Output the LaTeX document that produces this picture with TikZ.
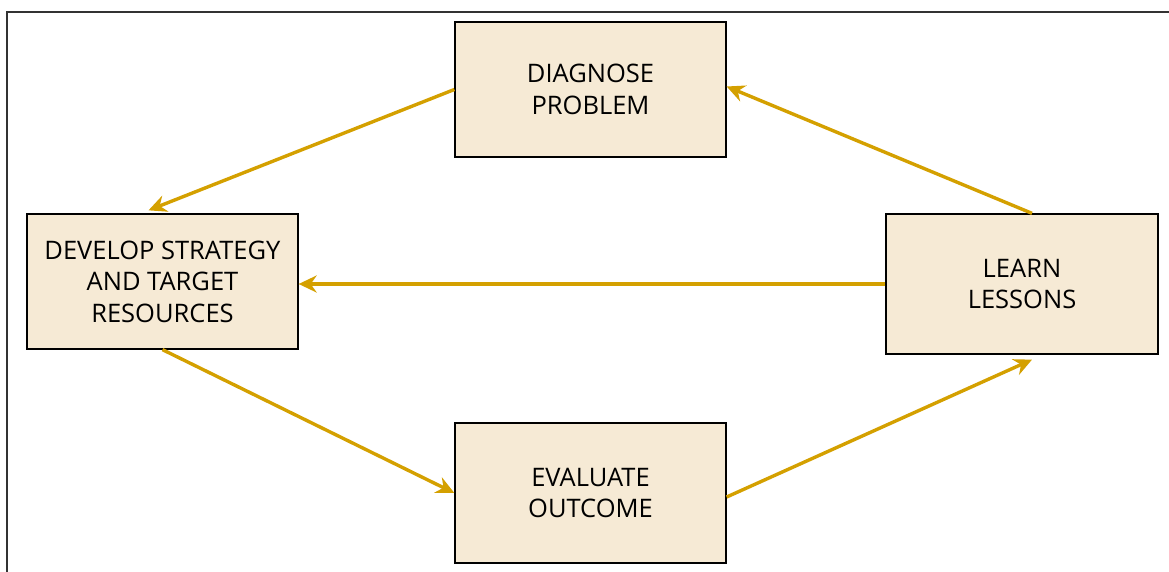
\documentclass[tikz,border=0pt]{standalone}
\usepackage{fontspec}
\setmainfont{Open Sans}
\usetikzlibrary{arrows.meta}
\definecolor{boxfill}{HTML}{F6EAD5}
\definecolor{flow}{HTML}{D4A000}
\tikzset{stage/.style={draw=black,line width=1.3pt,fill=boxfill,minimum width=271pt,minimum height=135pt,align=center,font=\fontsize{25.5}{31.5}\selectfont},
 flowarrow/.style={draw=flow,line width=3.4pt,-{Stealth[length=18pt,width=17pt,inset=6pt]}}}
\begin{document}
\begin{tikzpicture}[x=1pt,y=-1pt]
 \useasboundingbox (0,0) rectangle (1169,572);
 \draw[line width=1.8pt,draw=black!80] (7,600) -- (7,12) -- (1200,12);
 \node[stage] (diagnose) at (590.5,89.5) {DIAGNOSE\\PROBLEM};
 \node[stage] (develop) at (162.5,281.5) {DEVELOP STRATEGY\\AND TARGET\\RESOURCES};
 \node[stage,minimum width=272pt,minimum height=140pt] (learn) at (1022,284) {LEARN\\LESSONS};
 \node[stage,minimum height=140pt] (evaluate) at (590.5,493) {EVALUATE\\OUTCOME};
 \draw[flowarrow] (diagnose.west) -- ([xshift=-14pt,yshift=3pt]develop.north);
 \draw[flowarrow] (learn.west |- 0,284) -- (develop.east |- 0,284);
 \draw[flowarrow] (develop.south) -- (evaluate.west);
 \draw[flowarrow] ([yshift=-4pt]evaluate.east) -- ([xshift=10pt,yshift=-5pt]learn.south);
 \draw[flowarrow] ([xshift=10pt]learn.north) -- ([yshift=3pt]diagnose.east);
\end{tikzpicture}
\end{document}
